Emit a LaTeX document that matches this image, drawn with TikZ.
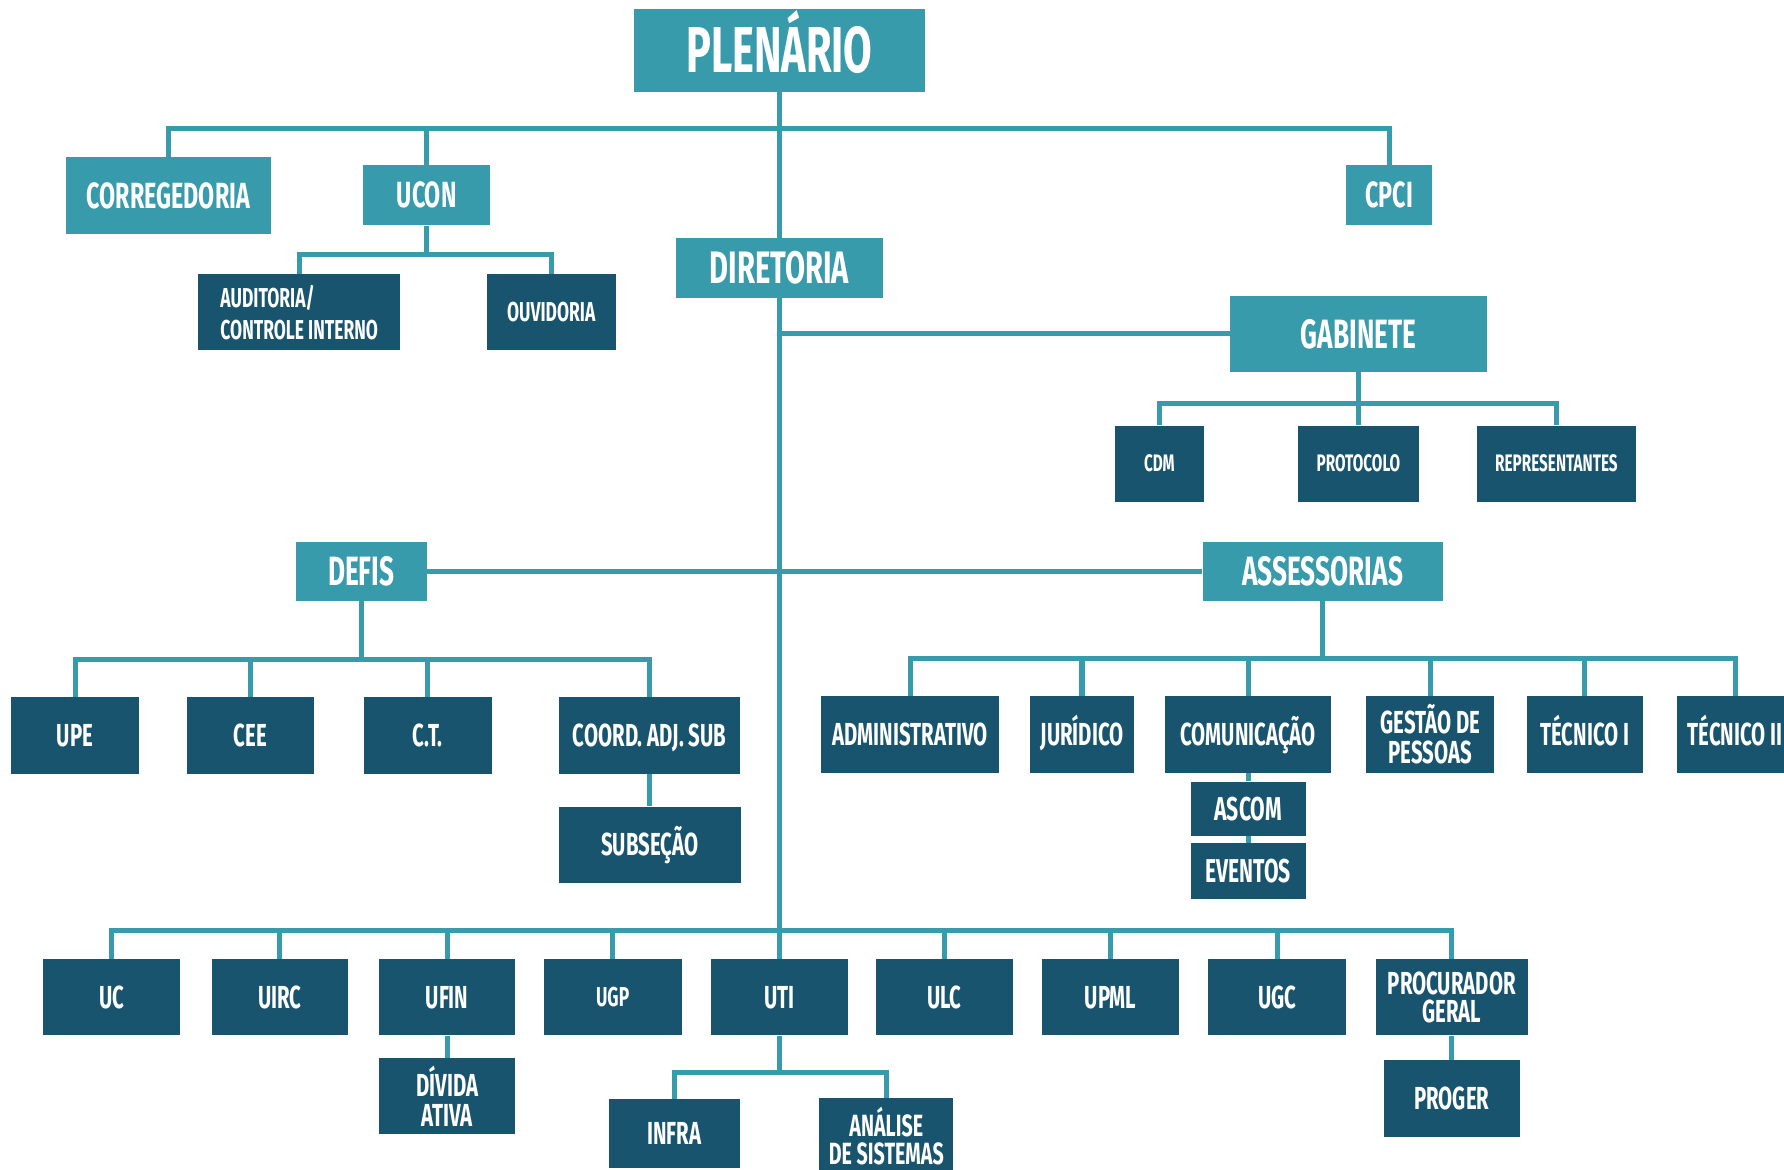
\documentclass[tikz,border=0pt]{standalone}
\usepackage{fontspec}
\usepackage{tikz}
\usetikzlibrary{positioning,calc}
\newfontfamily\orgfont[FakeStretch=0.64]{Fira Sans}
\definecolor{boxteal}{HTML}{389BAB}
\definecolor{boxdark}{HTML}{18546D}

\tikzset{
    link/.style={draw=boxteal, line width=4.5pt},
    orgfont/.style 2 args={font=\orgfont\bfseries\fontsize{#1}{#2}\selectfont,
        text height={0.689*#1pt}, text depth=0pt},
    twoline/.style={text height={}, text depth={}},
    unitbox/.style={rectangle, fill=boxdark, text=white, inner sep=0pt, align=center,
        minimum height=67pt, orgfont={28}{26}},
    smallbox/.style={unitbox, orgfont={21}{24}},
    headbox/.style={unitbox, fill=boxteal, minimum height=53pt, orgfont={32}{34}},
    bighead/.style={headbox, orgfont={36}{38}},
}

\begin{document}
\begin{tikzpicture}[x=1pt, y=-1pt]
    \useasboundingbox (0,0) rectangle (1568,1028);

    % top level
    \node[headbox, minimum width=256pt, minimum height=73pt, orgfont={57}{60}] (plenario) at (685,44.5) {PLENÁRIO};
    \node[headbox, minimum width=180pt, minimum height=68pt] (corregedoria) at (148,172) {CORREGEDORIA};
    \node[headbox, minimum width=112pt] (ucon) at (375,171.5) {UCON};
    \node[headbox, minimum width=76pt] (cpci) at (1221,171.5) {CPCI};
    \node[headbox, minimum width=182pt, orgfont={40}{42}] (diretoria) at (685,235.5) {DIRETORIA};
    \node[smallbox, minimum width=178pt, orgfont={24}{28}, twoline, align=left] (auditoria) at (263,274.5) {AUDITORIA/\\CONTROLE INTERNO};
    \node[smallbox, minimum width=113pt, orgfont={24}{28}] (ouvidoria) at (484.5,274.5) {OUVIDORIA};

    % gabinete
    \node[bighead, minimum width=226pt, minimum height=67pt] (gabinete) at (1194,293.5) {GABINETE};
    \node[smallbox, minimum width=78pt] (cdm) at (1019,407.5) {CDM};
    \node[smallbox, minimum width=106pt] (protocolo) at (1194,407.5) {PROTOCOLO};
    \node[smallbox, minimum width=140pt] (representantes) at (1368,407.5) {REPRESENTANTES};

    % defis
    \node[bighead, minimum width=115pt, minimum height=52pt] (defis) at (317.5,502) {DEFIS};
    \node[unitbox, minimum width=112pt] (upe) at (66,646.5) {UPE};
    \node[unitbox, minimum width=112pt] (cee) at (220,646.5) {CEE};
    \node[unitbox, minimum width=112pt] (ct) at (376,646.5) {C.T.};
    \node[unitbox, minimum width=159pt] (coord) at (571,646.5) {COORD. ADJ. SUB};
    \node[unitbox, minimum width=160pt] (subsecao) at (571,742.5) {SUBSEÇÃO};

    % assessorias
    \node[bighead, minimum width=211pt, minimum height=52pt] (assessorias) at (1162.5,502) {ASSESSORIAS};
    \node[unitbox, minimum width=156pt] (administrativo) at (800,645.5) {ADMINISTRATIVO};
    \node[unitbox, minimum width=92pt] (juridico) at (951,645.5) {JURÍDICO};
    \node[unitbox, minimum width=146pt] (comunicacao) at (1097,645.5) {COMUNICAÇÃO};
    \node[unitbox, minimum width=112pt, twoline] (gestao) at (1257,645.5) {GESTÃO DE\\PESSOAS};
    \node[unitbox, minimum width=102pt] (tecnico1) at (1393,645.5) {TÉCNICO I};
    \node[unitbox, minimum width=102pt] (tecnico2) at (1525,645.5) {TÉCNICO II};
    \node[unitbox, minimum width=101pt, minimum height=48pt, orgfont={29}{30}] (ascom) at (1097,711) {ASCOM};
    \node[unitbox, minimum width=101pt, minimum height=49pt, orgfont={29}{30}] (eventos) at (1097,765.5) {EVENTOS};

    % units
    \node[unitbox, minimum width=120pt] (uc) at (98,876.5) {UC};
    \node[unitbox, minimum width=120pt] (uirc) at (246,876.5) {UIRC};
    \node[unitbox, minimum width=120pt] (ufin) at (393,876.5) {UFIN};
    \node[unitbox, minimum width=121pt, orgfont={24}{26}] (ugp) at (538.5,876.5) {UGP};
    \node[unitbox, minimum width=120pt] (uti) at (685,876.5) {UTI};
    \node[unitbox, minimum width=120pt] (ulc) at (830,876.5) {ULC};
    \node[unitbox, minimum width=120pt] (upml) at (976,876.5) {UPML};
    \node[unitbox, minimum width=121pt] (ugc) at (1122.5,876.5) {UGC};
    \node[unitbox, minimum width=134pt, orgfont={28}{25}, twoline] (procurador) at (1276,876.5) {PROCURADOR\\GERAL};
    \node[unitbox, minimum width=120pt, orgfont={28}{27}, twoline] (divida) at (393,963.5) {DÍVIDA\\ATIVA};
    \node[unitbox, minimum width=115pt, minimum height=61pt] (infra) at (592.5,996.5) {INFRA};
    \node[unitbox, minimum width=118pt, orgfont={27}{25}, twoline] (analise) at (779,998.5) {ANÁLISE\\DE SISTEMAS};
    \node[unitbox, minimum width=120pt] (proger) at (1276,965.5) {PROGER};

    % buses
    \coordinate (topbus) at (685,113);
    \coordinate (uconbus) at (375,224);
    \coordinate (gabbus) at (1194,355);
    \coordinate (defbus) at (317.5,580);
    \coordinate (assbus) at (1162.5,579);
    \coordinate (lowbus) at (685,818);
    \coordinate (utibus) at (685,943);

    \draw[link] (plenario) -- (diretoria);
    \draw[link] (corregedoria.north) |- (topbus) -| (cpci.north);
    \draw[link] (ucon.north) -- (ucon.north |- topbus);
    \draw[link] (ucon) -- (uconbus);
    \draw[link] (auditoria.north) |- (uconbus) -| (ouvidoria.north);

    \draw[link] (diretoria.south) -- (lowbus);
    \draw[link] (diretoria.south |- gabinete.west) -- (gabinete.west);
    \draw[link] (gabinete) -- (protocolo);
    \draw[link] (cdm.north) |- (gabbus) -| (representantes.north);

    \draw[link] (defis) -- (assessorias);
    \draw[link] (defis) -- (defbus);
    \draw[link] (upe.north) |- (defbus) -| (coord.north);
    \foreach \n in {cee,ct}
        \draw[link] (\n.north) -- (\n.north |- defbus);
    \draw[link] (coord) -- (subsecao);

    \draw[link] (assessorias) -- (assbus);
    \draw[link] (administrativo.north) |- (assbus) -| (tecnico2.north);
    \foreach \n in {juridico,comunicacao,gestao,tecnico1}
        \draw[link] (\n.north) -- (\n.north |- assbus);
    \draw[link] (comunicacao) -- (ascom);
    \draw[link] (ascom) -- (eventos);

    \draw[link] (uc.north) |- (lowbus) -| (procurador.north);
    \foreach \n in {uirc,ufin,ugp,uti,ulc,upml,ugc}
        \draw[link] (\n.north) -- (\n.north |- lowbus);
    \draw[link] (ufin) -- (divida);
    \draw[link] (procurador) -- (proger);
    \draw[link] (uti) -- (utibus);
    \draw[link] (infra.north) |- (utibus) -| (analise.north);
\end{tikzpicture}
\end{document}
